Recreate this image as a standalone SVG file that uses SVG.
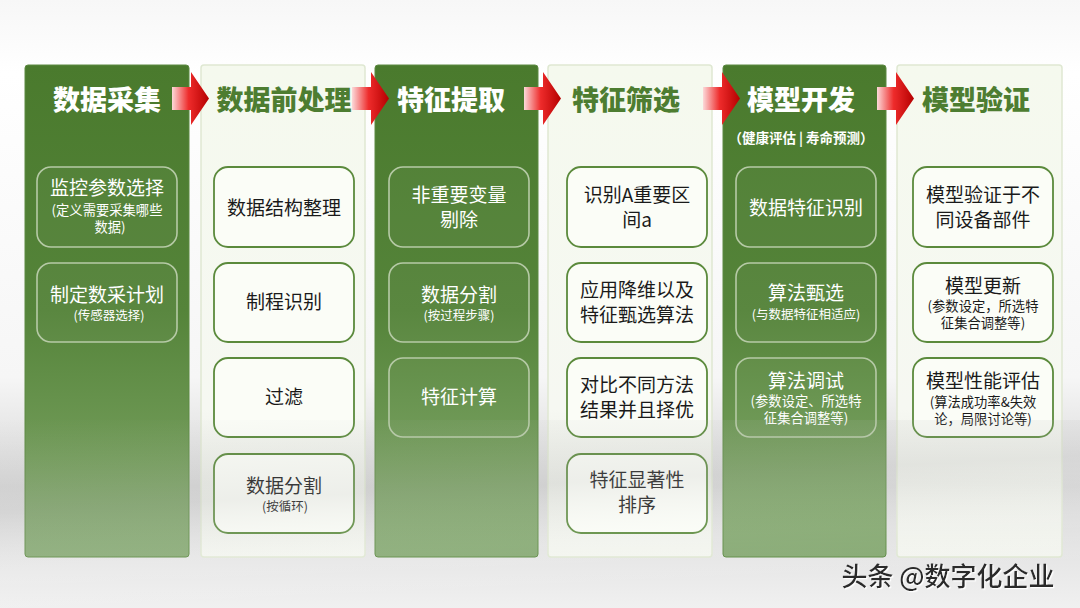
<svg xmlns="http://www.w3.org/2000/svg" width="1080" height="608" viewBox="0 0 1080 608">
<defs>
<linearGradient id="bg" x1="0" y1="0" x2="0" y2="1">
<stop offset="0" stop-color="#f7f7f7"/>
<stop offset="0.12" stop-color="#ffffff"/>
<stop offset="0.62" stop-color="#f6f6f6"/>
<stop offset="0.8" stop-color="#d6d6d6"/>
<stop offset="0.9" stop-color="#e4e4e4"/>
<stop offset="1" stop-color="#f0f0f0"/>
</linearGradient>
<linearGradient id="dark" x1="0" y1="0" x2="0" y2="1">
<stop offset="0" stop-color="#4a7a2d"/>
<stop offset="0.5" stop-color="#55843a"/>
<stop offset="0.8" stop-color="#719b58"/>
<stop offset="1" stop-color="#86a973"/>
</linearGradient>
<linearGradient id="light" x1="0" y1="0" x2="0" y2="1">
<stop offset="0" stop-color="#f5f9ee"/>
<stop offset="0.7" stop-color="#f6f8f2"/>
<stop offset="0.85" stop-color="#eaece6"/>
<stop offset="1" stop-color="#f3f5ef"/>
</linearGradient>
<linearGradient id="arr" x1="0" y1="0" x2="1" y2="0">
<stop offset="0" stop-color="#fcd9d9"/>
<stop offset="0.45" stop-color="#ee2b2b"/>
<stop offset="1" stop-color="#b50000"/>
</linearGradient>
<linearGradient id="sheen" x1="0" y1="0" x2="0.3" y2="1">
<stop offset="0" stop-color="#bbbbbb" stop-opacity="0"/>
<stop offset="0.45" stop-color="#bbbbbb" stop-opacity="0.22"/>
<stop offset="0.75" stop-color="#ffffff" stop-opacity="0.1"/>
<stop offset="1" stop-color="#ffffff" stop-opacity="0"/>
</linearGradient>
<filter id="wm" x="-5%" y="-20%" width="110%" height="140%">
<feDropShadow dx="1.2" dy="1.2" stdDeviation="0.4" flood-color="#ffffff" flood-opacity="1"/>
</filter>
<path id="arrow" d="M0,15 H19 V0 L37,26.5 L19,53 V38 H0 Z"/>
</defs>
<style>
.t{font-family:"Noto Sans CJK SC","Noto Sans",sans-serif;text-anchor:middle}
.hd{font-size:27px;font-weight:900}
.hw{fill:#ffffff}
.hg{fill:#4d7d31}
.m{font-size:19px}
.s{font-size:13.3px}
.xs{font-size:12.5px}
.dk{fill:#ffffff}
.bk{fill:#1a1a1a}
.colD{fill:url(#dark);stroke:#5d8a43;stroke-width:1}
.colL{fill:url(#light);stroke:#dfe8d2;stroke-width:1.5}
.bD{fill:#ffffff;fill-opacity:0.03;stroke:#b6caa6;stroke-width:1.6}
.bL{fill:#fbfdf7;stroke:#5b8a3c;stroke-width:1.8}
</style>
<rect x="0" y="0" width="1080" height="608" fill="url(#bg)"/>

<g id="col1">
<rect class="colD" x="25" y="65" width="164" height="492" rx="3"/>
<text class="t hd hw" x="107" y="110">数据采集</text>
<rect class="bD" x="37" y="167" width="140" height="80" rx="14"/>
<text class="t m dk" x="107" y="195">监控参数选择</text>
<text class="t s dk" x="107" y="215">(定义需要采集哪些</text>
<text class="t s dk" x="110" y="232">数据)</text>
<rect class="bD" x="37" y="263" width="140" height="79" rx="14"/>
<text class="t m dk" x="107" y="302">制定数采计划</text>
<text class="t xs dk" x="109" y="320">(传感器选择)</text>
</g>

<g id="col2">
<rect class="colL" x="201" y="65" width="164" height="492" rx="3"/>
<text class="t hd hg" x="284" y="110">数据前处理</text>
<rect class="bL" x="214" y="167" width="140" height="80" rx="14"/>
<text class="t m bk" x="284" y="215">数据结构整理</text>
<rect class="bL" x="214" y="263" width="140" height="79" rx="14"/>
<text class="t m bk" x="284" y="309">制程识别</text>
<rect class="bL" x="214" y="358" width="140" height="79" rx="14"/>
<text class="t m bk" x="284" y="404">过滤</text>
<rect class="bL" x="214" y="454" width="140" height="79" rx="14"/>
<text class="t m bk" x="284" y="493">数据分割</text>
<text class="t xs bk" x="285" y="511">(按循环)</text>
</g>

<g id="col3">
<rect class="colD" x="375" y="65" width="163" height="492" rx="3"/>
<text class="t hd hw" x="451" y="110">特征提取</text>
<rect class="bD" x="389" y="167" width="140" height="80" rx="14"/>
<text class="t m dk" x="459" y="202">非重要变量</text>
<text class="t m dk" x="459" y="227">剔除</text>
<rect class="bD" x="389" y="263" width="140" height="79" rx="14"/>
<text class="t m dk" x="459" y="302">数据分割</text>
<text class="t xs dk" x="459" y="320">(按过程步骤)</text>
<rect class="bD" x="389" y="358" width="140" height="79" rx="14"/>
<text class="t m dk" x="459" y="404">特征计算</text>
</g>

<g id="col4">
<rect class="colL" x="548" y="65" width="164" height="492" rx="3"/>
<text class="t hd hg" x="626" y="110">特征筛选</text>
<rect class="bL" x="567" y="167" width="140" height="80" rx="14"/>
<text class="t m bk" x="637" y="202">识别A重要区</text>
<text class="t m bk" x="637" y="227">间a</text>
<rect class="bL" x="567" y="263" width="140" height="79" rx="14"/>
<text class="t m bk" x="637" y="297">应用降维以及</text>
<text class="t m bk" x="637" y="322">特征甄选算法</text>
<rect class="bL" x="567" y="358" width="140" height="79" rx="14"/>
<text class="t m bk" x="637" y="392">对比不同方法</text>
<text class="t m bk" x="637" y="417">结果并且择优</text>
<rect class="bL" x="567" y="454" width="140" height="79" rx="14"/>
<text class="t m bk" x="637" y="487">特征显著性</text>
<text class="t m bk" x="637" y="512">排序</text>
</g>

<g id="col5">
<rect class="colD" x="723" y="65" width="163" height="492" rx="3"/>
<text class="t hd hw" x="801" y="110">模型开发</text>
<text class="t hw" x="801" y="143" style="font-size:13.5px;font-weight:700">（健康评估 | 寿命预测）</text>
<rect class="bD" x="736" y="167" width="140" height="80" rx="14"/>
<text class="t m dk" x="806" y="215">数据特征识别</text>
<rect class="bD" x="736" y="263" width="140" height="79" rx="14"/>
<text class="t m dk" x="806" y="300">算法甄选</text>
<text class="t xs dk" x="806" y="319">(与数据特征相适应)</text>
<rect class="bD" x="736" y="358" width="140" height="79" rx="14"/>
<text class="t m dk" x="806" y="388">算法调试</text>
<text class="t s dk" x="806" y="406">(参数设定、所选特</text>
<text class="t s dk" x="806" y="423">征集合调整等)</text>
</g>

<g id="col6">
<rect class="colL" x="897" y="65" width="165" height="492" rx="3"/>
<text class="t hd hg" x="976" y="110">模型验证</text>
<rect class="bL" x="913" y="167" width="140" height="80" rx="14"/>
<text class="t m bk" x="983" y="202">模型验证于不</text>
<text class="t m bk" x="983" y="227">同设备部件</text>
<rect class="bL" x="913" y="263" width="140" height="79" rx="14"/>
<text class="t m bk" x="983" y="293">模型更新</text>
<text class="t s bk" x="983" y="311">(参数设定，所选特</text>
<text class="t s bk" x="983" y="328">征集合调整等)</text>
<rect class="bL" x="913" y="358" width="140" height="79" rx="14"/>
<text class="t m bk" x="983" y="388">模型性能评估</text>
<text class="t s bk" x="983" y="407">(算法成功率&amp;失效</text>
<text class="t s bk" x="983" y="424">论，局限讨论等)</text>
</g>

<g id="connectors" fill="url(#arr)">
<use href="#arrow" x="172" y="72"/>
<use href="#arrow" x="352" y="72"/>
<use href="#arrow" x="524" y="72"/>
<use href="#arrow" x="703" y="72"/>
<use href="#arrow" x="877" y="72"/>
</g>

<rect x="0" y="420" width="1080" height="188" fill="url(#sheen)" pointer-events="none"/>

<text class="t" x="948" y="586" style="font-size:26px;font-weight:500;fill:#2a2a2a" filter="url(#wm)">头条 @数字化企业</text>
</svg>
